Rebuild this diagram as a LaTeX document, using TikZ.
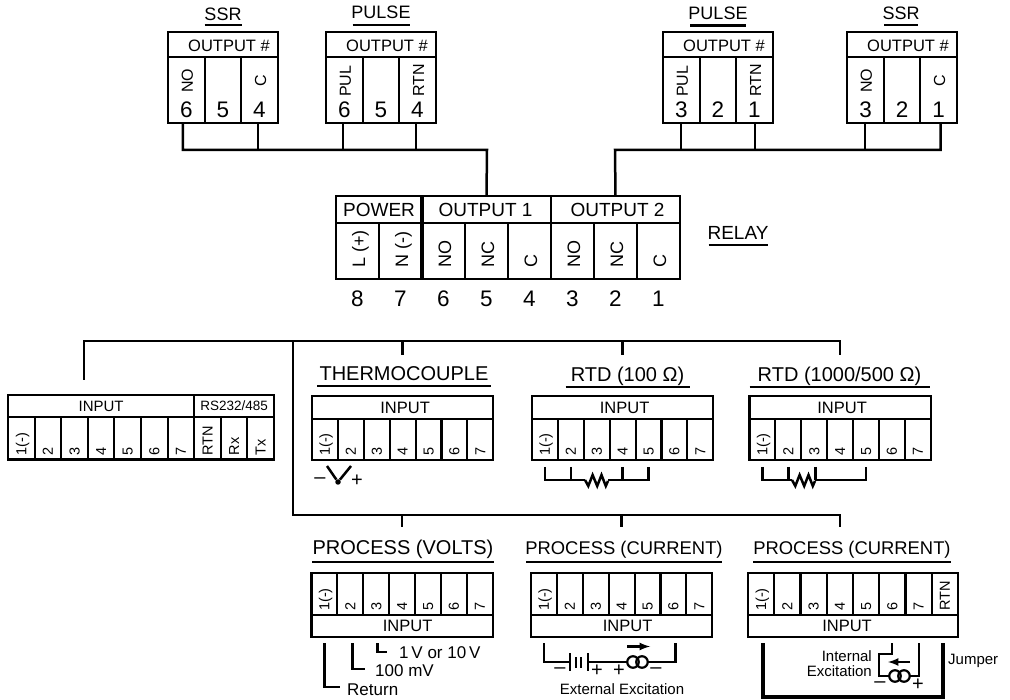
\documentclass[tikz,border=0pt]{standalone}
\usepackage{fontspec}
\setmainfont{Liberation Sans}
\usetikzlibrary{arrows}
\tikzset{
  wire/.style={line width=2.5pt},
  thin wire/.style={line width=2pt},
  cell/.style={draw,line width=2.1pt,outer sep=0pt,inner sep=0pt},
  lab/.style={xshift=5pt,rotate=90,anchor=base west,inner sep=0pt,font=\fontsize{14.5}{14}\selectfont},
  inp/.style={inner sep=0pt,font=\fontsize{16.5}{17}\selectfont},
  ttlf/.style={anchor=base,inner sep=0pt,font=\fontsize{20}{22}\selectfont},
  ttls/.style={anchor=base,inner sep=0pt,font=\fontsize{18}{20}\selectfont},
  note/.style={anchor=base west,inner sep=0pt,font=\fontsize{17}{18}\selectfont},
  small/.style={inner sep=0pt,font=\fontsize{15}{16}\selectfont},
  sign/.style={inner sep=0pt,font=\fontsize{20}{20}\selectfont},
  num/.style={anchor=base,inner sep=0pt,font=\fontsize{22.5}{24}\selectfont},
  src/.style={circle,draw,line width=2.2pt,minimum size=11.5pt,inner sep=0pt,outer sep=0pt},
}
\newcommand{\inlist}{1/{1(-)}/4,2/2/4,3/3/4,4/4/4,5/5/4,6/6/4,7/7/4}
\newcommand{\row}[4]{\foreach \n/\t/\g in #4 {
  \node[cell,minimum width=#2,minimum height=#3] (#1-\n) at ({(\n-.5)*#2},#3/2) {};
  \node[lab] (#1-l\n) at ({(\n-.5)*#2},#3-\g) {\t};}}
\newcommand{\hdr}[5]{\node[cell,minimum width=#3,minimum height=#4] (#1) at (#2+#3/2,#5+#4/2) {};}
\newcommand{\outbox}[5]{\hdr{#1-hd}{0}{110}{25}{0}
  \node[anchor=base east,inner sep=0pt,font=\fontsize{16.5}{17}\selectfont] (#1-ht) at (102,20) {OUTPUT \#};
  \begin{scope}[shift={(0,25)},lab/.style={xshift=6.5pt,rotate=90,anchor=base west,inner sep=0pt,font=\fontsize{16}{16}\selectfont}]
    \row{#1}{36.67}{66}{{#5}}
  \end{scope}
  \node[num] (#1-d1) at (18.5,86) {#2};
  \node[num] (#1-d2) at (55,86) {#3};
  \node[num] (#1-d3) at (91.5,86) {#4};}
\newcommand{\inup}[2]{\hdr{#1-hd}{0}{181.3}{23}{0}
  \node[inp] (#1-in) at ([xshift=#2pt]#1-hd.center) {INPUT};
  \begin{scope}[shift={(0,23)}] \row{#1}{25.9}{41}{\inlist} \end{scope}}
\newcommand{\indn}[2]{\row{#1}{25.9}{42}{\inlist} \hdr{#1-hd}{0}{181.3}{22}{42}
  \node[inp] (#1-in) at ([xshift=#2pt]#1-hd.center) {INPUT};}
\newcommand{\ttl}[7]{\node[#1] (#2) at (#3,#4) {#7}; \draw[line width=2.2pt] (#3-#6,#5) -- (#3+#6,#5);}
\newcommand{\zz}[2]{\draw[wire,line join=miter] (#1,#2) -- ++(3.3,6) -- ++(4.3,-11) -- ++(4.6,11) -- ++(4.3,-11) -- ++(4.3,11) -- ++(2.2,-5);}

\begin{document}
\begin{tikzpicture}[x=1pt,y=-1pt]
  \useasboundingbox (0,0) rectangle (1010,700);
  % output modules
  \begin{scope}[shift={(168,32)}] \outbox{ssrA}{6}{5}{4}{1/NO/30,2/{}/0,3/C/36}     \end{scope} % SSR
  \begin{scope}[shift={(326,32)}] \outbox{puA}{6}{5}{4}{1/PUL/26,2/{}/0,3/RTN/26}   \end{scope} % PULSE
  \begin{scope}[shift={(663,32)}] \outbox{puB}{3}{2}{1}{1/PUL/26,2/{}/0,3/RTN/26}   \end{scope} % PULSE
  \begin{scope}[shift={(847,32)}] \outbox{ssrB}{3}{2}{1}{1/NO/30,2/{}/0,3/C/36}     \end{scope} % SSR
  \ttl{ttls}{ssrAt}{223}{20.5}{25}{18.5}{SSR}
  \ttl{ttls}{puAt}{381}{19}{25}{28.5}{PULSE}
  \ttl{ttls}{puBt}{718}{20}{25.5}{28}{PULSE}
  \ttl{ttls}{ssrBt}{901}{20}{25}{17}{SSR}

  % relay block
  \begin{scope}[shift={(336,223)},lab/.style={xshift=7.5pt,rotate=90,anchor=base west,inner sep=0pt,font=\fontsize{18}{18}\selectfont}]
    \row{relay}{43}{56}{{1/{L (+)}/11,2/{N (-)}/11,3/NO/11,4/NC/11,5/C/11,6/NO/11,7/NC/11,8/C/11}}
  \end{scope}
  \hdr{pw}{336}{86}{27}{196} \hdr{ouA}{422}{129}{27}{196} \hdr{ouB}{551}{129}{27}{196}
  \node[inner sep=0pt,font=\fontsize{19}{20}\selectfont] (pwt) at (pw.center) {POWER};
  \node[inner sep=0pt,font=\fontsize{19}{20}\selectfont] (ouAt) at ([xshift=-1pt]ouA.center) {OUTPUT 1};
  \node[inner sep=0pt,font=\fontsize{19}{20}\selectfont] (ouBt) at ([xshift=2pt]ouB.center) {OUTPUT 2};
  \draw[line width=3.8pt] (pw.north east) -- (relay-2.south east);
  \foreach \n/\t in {1/8,2/7,3/6,4/5,5/4,6/3,7/2,8/1}
    \node[num] (rn\n) at ([yshift=-28pt]relay-\n.south) {\t};
  \ttl{ttlf,font=\fontsize{19}{20}\selectfont}{relayt}{738}{240}{245}{29.5}{RELAY}

  % output buses
  \coordinate (busA) at (487,150);
  \coordinate (busB) at (615,150);
  \draw[wire] ([xshift=-3.5pt]ssrA-1.south) |- (busA) -- (ouA.north);
  \draw[wire] ([xshift=2pt]ssrB-3.south) |- (busB) -- (ouB.north);
  \foreach \c in {ssrA-3,puA-1,puA-3} \draw[thin wire] ([xshift=-1.5pt]\c.south) -- ([xshift=-1.5pt]\c.south |- busA);
  \foreach \c in {puB-1,puB-3,ssrB-1} \draw[thin wire] (\c.south) -- (\c.south |- busB);

  % input blocks
  \begin{scope}[shift={(8,395)},inp/.style={inner sep=0pt,font=\fontsize{15}{16}\selectfont}]
    \hdr{mn-hd}{0}{186.2}{22}{0} \hdr{mn-rs}{186.2}{79.8}{22}{0}
    \node[inp] (mn-in) at (mn-hd.center) {INPUT};
    \node[inp,font=\fontsize{13.5}{14}\selectfont] (mn-rst) at (mn-rs.center) {RS232/485};
    \begin{scope}[shift={(0,22)}] \row{mn}{26.6}{42.5}{{1/{1(-)}/4,2/2/4,3/3/4,4/4/4,5/5/4,6/6/4,7/7/4,8/RTN/4,9/Rx/4,10/Tx/4}} \end{scope}
  \end{scope}
  \begin{scope}[shift={(312,396)}] \inup{tc}{2.5}   \end{scope} % thermocouple
  \begin{scope}[shift={(532,396)}] \inup{ra}{2}     \end{scope} % rtd 100
  \begin{scope}[shift={(749.5,396)}] \inup{rb}{2}   \end{scope} % rtd 1000
  \begin{scope}[shift={(311.5,573)}] \indn{pv}{5.5} \end{scope} % volts
  \begin{scope}[shift={(531,573)}] \indn{pc}{6}     \end{scope} % current, external
  \begin{scope}[shift={(748,573)}] % current, internal
    \row{pi}{26.25}{42}{{1/{1(-)}/4,2/2/4,3/3/4,4/4/4,5/5/4,6/6/4,7/7/4,8/RTN/4}}
    \hdr{pi-hd}{0}{210}{22}{42}
    \node[inp] (pi-in) at ([xshift=-6pt]pi-hd.center) {INPUT};
  \end{scope}
  \ttl{ttlf}{tct}{404}{381}{386}{87}{THERMOCOUPLE}
  \ttl{ttlf}{rat}{627.5}{382}{387}{62}{RTD (100 Ω)}
  \ttl{ttlf}{rbt}{839.5}{382}{387}{90}{RTD (1000/500 Ω)}
  \ttl{ttlf}{pvt}{403}{554.5}{562}{91}{PROCESS (VOLTS)}
  \ttl{ttlf,font=\fontsize{18.4}{22}\selectfont}{pct}{624}{554.5}{562}{98}{PROCESS (CURRENT)}
  \ttl{ttlf,font=\fontsize{18.4}{22}\selectfont}{pit}{852}{554.5}{562}{99}{PROCESS (CURRENT)}

  % input trunks
  \coordinate (trA) at (84,341);
  \coordinate (trE) at (840,341);
  \coordinate (trG) at (293,341);
  \coordinate (trH) at (293,515);
  \coordinate (trI) at (840,515);
  \coordinate (mnS) at (84,380);
  \coordinate (piS) at (840,527);
  \draw[wire] (mnS) -- (trA) -- (trE) -- ++(0,14);
  \draw[wire] (trG) -- (trH) -- (trI) -- (piS);
  \foreach \c in {tc,ra} \draw[wire] (\c-hd.north |- trA) -- ++(0,14);
  \foreach \c in {pv,pc} \draw[wire] (\c-hd.north |- trH) -- ++(0,12);

  % thermocouple
  \node[circle,fill,inner sep=0pt,minimum size=5.5pt] (tcj) at (338,482) {};
  \draw[wire] (327,466) -- (tcj) -- (351,466);
  \node[sign] (tcm) at (320,481) {–};
  \node[sign] (tcp) at (357,481) {+};

  % rtd
  \draw[wire] ([yshift=-7pt]ra-1.south) |- (585,480);
  \draw[wire] ([yshift=-7pt]ra-2.south) -- ([yshift=-20pt]ra-2.south);
  \zz{585}{480}
  \draw[wire] (608,480) -| ([yshift=-7pt]ra-5.south);
  \draw[wire] ([yshift=-7pt]ra-4.south) -- ([yshift=-20pt]ra-4.south);
  \draw[wire] ([yshift=-7pt]rb-1.south) |- (792,480);
  \draw[wire] ([yshift=-7pt]rb-2.south) -- ([yshift=-20pt]rb-2.south);
  \zz{792}{480}
  \draw[wire] (815,480) -| ([yshift=-7pt]rb-5.south);
  \draw[wire] ([xshift=1pt,yshift=-7pt]rb-3.south) -- ([xshift=1pt,yshift=-20pt]rb-3.south);

  % process volts
  \node[note] (pvr) at (347,695) {Return};
  \node[note] (pvm) at (375,676) {100 mV};
  \node[note] (pvv) at (399,658) {1\,V or 10\,V};
  \coordinate (pvrC) at (340,687);
  \coordinate (pvmC) at (365,669);
  \coordinate (pvvC) at (387,652);
  \draw[wire] (pv-1.south |- 0,643) |- (pvrC);
  \draw[wire] ([xshift=2pt]pv-2.south |- 0,643) |- (pvmC);
  \draw[wire] ([xshift=1pt]pv-3.south |- 0,643) |- (pvvC);

  % process current, external
  \node[src] (pcA) at (633,662) {};
  \node[src] (pcB) at (642,662) {};
  \coordinate (batA) at (570,662);
  \coordinate (batB) at (588,662);
  \draw[wire] (pc-1.south |- 0,643) |- (batA);
  \draw[wire] (batB) -- (pcA);
  \draw[wire] (pcB) -| ([xshift=2pt]pc-6.south |- 0,643);
  \draw[wire] (570,653) -- (570,671) (588,653) -- (588,671);
  \draw[thin wire] (576,657) -- (576,668) (581,657) -- (581,668);
  \draw[wire,-latex] (627,646.5) -- (650,646.5);
  \node[sign] (pcm1) at (560,671) {–};
  \node[sign] (pcp1) at (597,671) {+};
  \node[sign] (pcp2) at (619,671) {+};
  \node[sign] (pcm2) at (656,671) {–};
  \node[small,anchor=base] (pct2) at (622,694) {External Excitation};

  % process current, internal
  \node[src] (piA) at (895,676) {};
  \node[src] (piB) at (904,676) {};
  \coordinate (piW) at (879,654);
  \draw[thin wire] (pi-6.south |- 0,643) |- (piW) |- (piA);
  \draw[thin wire] (piB) -| (pi-7.south |- 0,643);
  \draw[wire,-latex] (910,662) -- (888,662);
  \draw[line width=4.5pt] ([xshift=2pt]pi-1.south |- 0,643) |- (943,697) -- (943,643);
  \node[sign] (pim) at (880,685) {–};
  \node[sign] (pip) at (918,685) {+};
  \node[small,anchor=base east] (pii) at (872,661) {Internal};
  \node[small,anchor=base east] (pie) at (872,676) {Excitation};
  \node[small,anchor=base west] (pij) at (948,664) {Jumper};
\end{tikzpicture}
\end{document}
